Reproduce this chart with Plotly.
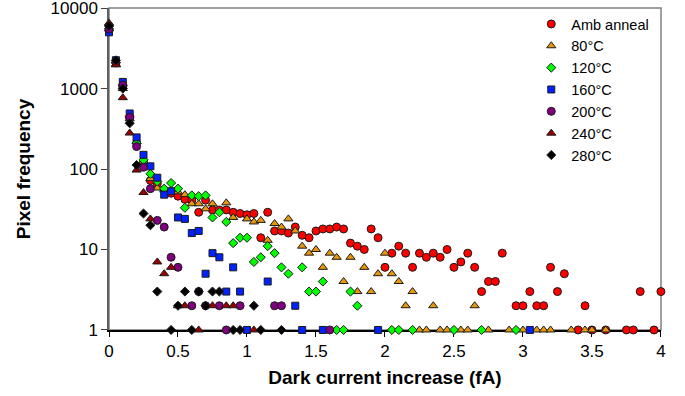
import plotly.graph_objects as go

# ---------------- data (bins of 0.05 fA) ----------------
amb_x = [0.00, 0.05, 0.10, 0.15, 0.20, 0.25, 0.30, 0.35, 0.40, 0.45,
         0.50, 0.55, 0.60, 0.65, 0.70, 0.75, 0.80, 0.85, 0.90, 0.95,
         1.00, 1.05, 1.10, 1.15, 1.20, 1.25, 1.30, 1.35, 1.40, 1.45,
         1.50, 1.55, 1.60, 1.65, 1.70, 1.75, 1.80, 1.85, 1.90, 1.95,
         2.00, 2.05, 2.10, 2.15, 2.20, 2.25, 2.30, 2.35, 2.40, 2.45,
         2.50, 2.55, 2.60, 2.65, 2.70, 2.75, 2.80, 2.85, 2.95,
         3.00, 3.05, 3.10, 3.15, 3.20, 3.25, 3.30, 3.40, 3.45,
         3.50, 3.60, 3.75, 3.80, 3.85, 3.95, 4.00]
amb_y = [6000, 2100, 1050, 430, 210, 120, 72, 66, 55, 50,
         46, 42, 41, 29, 41, 31, 31, 31, 29, 28,
         27, 28, 14, 29, 17, 17, 16, 19, 15, 14,
         17, 18, 18, 19, 18, 12, 11, 10, 18, 14,
         6, 9, 11, 9, 6, 9, 8, 9, 8, 10,
         6, 7, 9, 6, 3, 4, 4, 9, 2,
         2, 3, 2, 2, 6, 3, 5, 1, 2,
         1, 1, 1, 1, 3, 1, 3]

c80_x = [0.00, 0.05, 0.10, 0.15, 0.20, 0.25, 0.30, 0.35, 0.40, 0.45,
         0.50, 0.55, 0.60, 0.65, 0.70, 0.75, 0.85, 0.90,
         1.00, 1.05, 1.10, 1.15, 1.20, 1.25, 1.30, 1.35, 1.40, 1.45,
         1.50, 1.55, 1.60, 1.65, 1.70, 1.75, 1.80, 1.85, 1.90, 1.95,
         2.00, 2.05, 2.10, 2.15, 2.20, 2.25, 2.30, 2.35, 2.40, 2.45,
         2.55, 2.60, 2.65, 2.75, 2.90, 3.00, 3.10, 3.15, 3.20,
         3.35, 3.45, 3.50, 3.60]
c80_y = [5500, 2000, 1000, 420, 220, 125, 76, 58, 55, 55,
         52, 48, 37, 37, 32, 37, 38, 25,
         24, 22, 23, 13, 21, 19, 24, 17, 11, 9,
         10, 6, 9, 8, 4, 8, 3, 6, 3, 5,
         9, 5, 4, 2, 3, 1, 1, 2, 1, 1,
         1, 1, 2, 1, 1, 1, 1, 1, 1,
         1, 1, 1, 1]

c120_x = [0.00, 0.05, 0.10, 0.15, 0.20, 0.25, 0.30, 0.35, 0.40, 0.45,
          0.50, 0.55, 0.60, 0.65, 0.70, 0.75, 0.80, 0.85, 0.90, 0.95,
          1.00, 1.05, 1.10, 1.15, 1.20, 1.25, 1.30, 1.40, 1.45,
          1.50, 1.55, 1.65, 1.70, 1.75, 1.80, 2.05, 2.10, 2.20,
          2.50, 2.70, 2.95]
c120_y = [5500, 2100, 1100, 450, 210, 130, 87, 70, 57, 67,
          57, 33, 47, 46, 47, 25, 29, 22, 12, 14,
          14, 7, 8, 11, 9, 6, 5, 6, 3,
          3, 4, 1, 1, 3, 2, 1, 1, 1,
          1, 1, 1]

c160_x = [0.00, 0.05, 0.10, 0.15, 0.20, 0.25, 0.30, 0.35, 0.40, 0.45,
          0.50, 0.55, 0.60, 0.65, 0.70, 0.75, 0.80, 0.85, 0.90, 0.95,
          1.00, 1.15, 1.35, 1.40, 1.55, 1.95, 3.05]
c160_y = [5000, 2250, 1210, 490, 247, 150, 108, 78, 48, 53,
          25, 24, 16, 17, 5, 9, 8, 3, 6, 3,
          1, 4, 2, 1, 1, 1, 1]

c200_x = [0.00, 0.05, 0.10, 0.15, 0.20, 0.25, 0.30, 0.35, 0.40, 0.45,
          0.50, 0.60, 0.65, 0.70, 0.80, 0.85, 0.95, 1.20, 1.25, 1.60]
c200_y = [5500, 2100, 1100, 440, 190, 105, 57, 23, 19, 8,
          6, 2, 3, 2, 2, 1, 2, 2, 2, 1]

c240_x = [0.00, 0.05, 0.10, 0.15, 0.20, 0.25, 0.30, 0.35, 0.40, 0.45,
          0.50, 0.55, 0.65, 0.75, 0.85, 0.90, 1.05]
c240_y = [6500, 1970, 770, 280, 97, 51, 24, 7, 5, 6,
          2, 2, 1, 2, 2, 2, 1]

c280_x = [0.00, 0.05, 0.10, 0.15, 0.20, 0.25, 0.30, 0.35, 0.45,
          0.50, 0.55, 0.60, 0.65, 0.70, 0.75, 0.80, 0.90, 0.95,
          1.05, 1.10, 1.25]
c280_y = [6000, 2240, 1000, 370, 112, 28, 20, 3, 1,
          2, 3, 1, 3, 2, 3, 3, 1, 1,
          2, 1, 1]

series = [
    ("Amb anneal", amb_x, amb_y, "circle", "#FF0000", 8),
    ("80°C", c80_x, c80_y, "triangle-up", "#E8960A", 8),
    ("120°C", c120_x, c120_y, "diamond", "#00FF00", 7),
    ("160°C", c160_x, c160_y, "square", "#0022FF", 7),
    ("200°C", c200_x, c200_y, "circle", "#800080", 8),
    ("240°C", c240_x, c240_y, "triangle-up", "#990000", 8),
    ("280°C", c280_x, c280_y, "diamond", "#000000", 7),
]

x_ticks = [0, 0.5, 1, 1.5, 2, 2.5, 3, 3.5, 4]
x_ticktext = ["0", "0.5", "1", "1.5", "2", "2.5", "3", "3.5", "4"]
y_ticks = [1, 10, 100, 1000, 10000]
y_ticktext = ["1", "10", "100", "1000", "10000"]

FONT = "Liberation Sans, Arial, sans-serif"

fig = go.Figure()
for name, xs, ys, sym, col, sz in series:
    fig.add_trace(go.Scatter(
        x=xs, y=ys, mode="markers", name=name, cliponaxis=False,
        marker=dict(symbol=sym, color=col, size=sz,
                    line=dict(color="#1a1a1a", width=1)),
    ))

fig.update_layout(
    width=685, height=396,
    margin=dict(l=109, r=24, t=8, b=66),
    paper_bgcolor="white", plot_bgcolor="white",
    font=dict(family=FONT, color="black"),
    showlegend=True,
    legend=dict(x=0.765, y=1.0, xanchor="left", yanchor="top",
                font=dict(size=14.5, family=FONT), bgcolor="rgba(0,0,0,0)",
                itemwidth=30),
    shapes=[dict(type="rect", xref="paper", yref="paper", x0=0, x1=1, y0=0, y1=1,
                 line=dict(color="#808080", width=1.5), layer="below")],
)

fig.update_xaxes(
    range=[0, 4.0005], tickvals=x_ticks, ticktext=x_ticktext,
    showgrid=False, zeroline=False, showline=True, linecolor="black", linewidth=1.5,
    ticks="outside", ticklen=5, tickcolor="black", tickfont=dict(size=17),
    layer="below traces", automargin=False,
    title=dict(text="Dark current increase (fA)", font=dict(size=19, weight="bold"), standoff=11),
)
fig.update_yaxes(
    type="log", range=[-0.0005, 4.001], tickvals=y_ticks, ticktext=y_ticktext,
    showgrid=False, zeroline=False, showline=True, linecolor="#606060", linewidth=1.5,
    ticks="outside", ticklen=6, tickcolor="#404040", tickfont=dict(size=17),
    ticklabeloverflow="allow", automargin=False,
    layer="below traces",
    title=dict(text="Pixel frequency", font=dict(size=19, weight="bold"), standoff=15),
)

fig.write_html("out.html")
